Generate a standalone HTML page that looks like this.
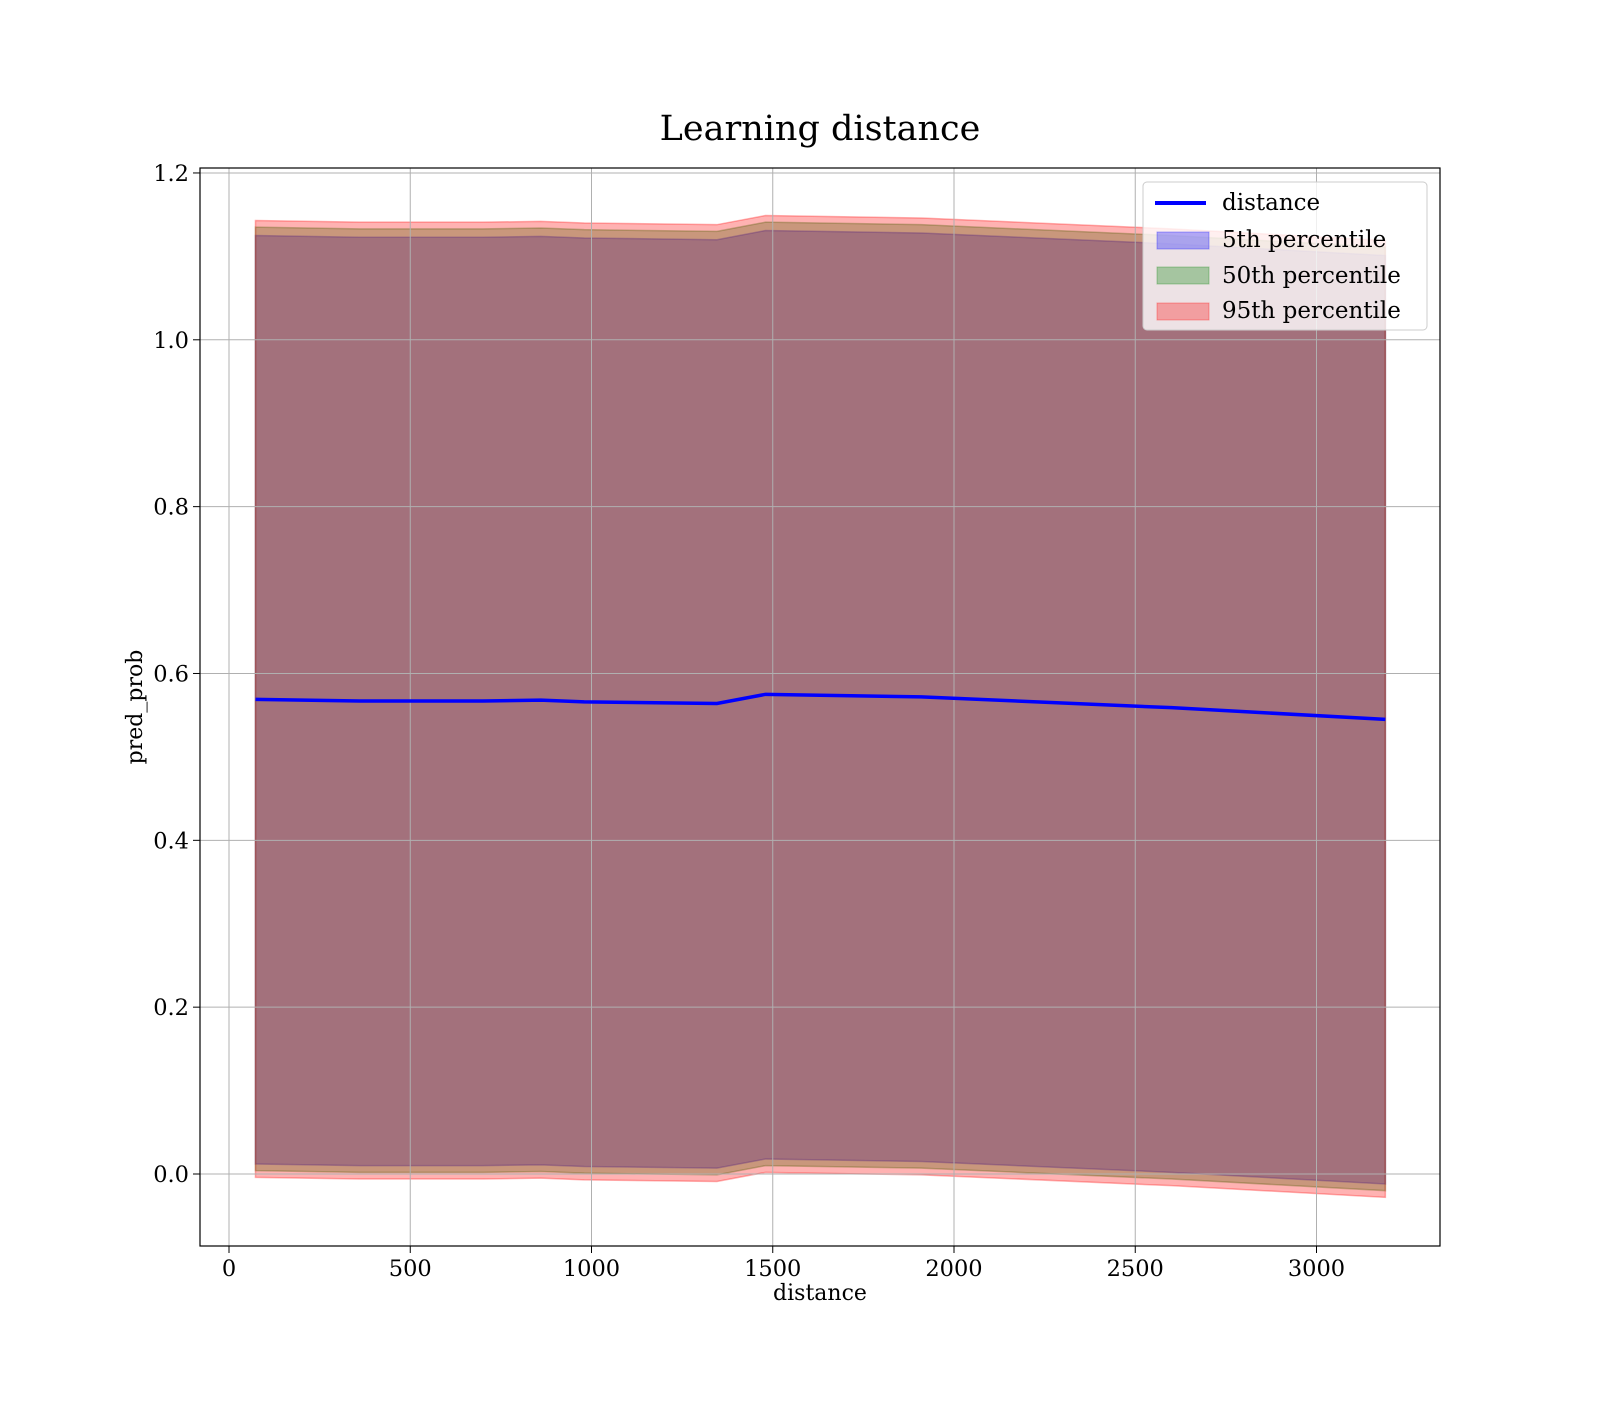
<!DOCTYPE html>
<html><head><meta charset="utf-8"><style>body{margin:0;background:#fff}svg text{font-family:"DejaVu Serif","Liberation Serif",serif;fill:#000}</style></head>
<body>
<svg id="chart" width="1600" height="1400" xmlns="http://www.w3.org/2000/svg">
<rect width="1600" height="1400" fill="#fff"/>
<text x="820" y="140" font-size="35" text-anchor="middle">Learning distance</text>
<g id="fills"></g><g id="grid"></g><g id="lines"></g><g id="ticks"></g>
<rect x="200" y="168" width="1240" height="1078" fill="none" stroke="#000" stroke-width="1.2"/>
<text x="820" y="1300" font-size="22" text-anchor="middle">distance</text>
<text transform="translate(142 707) rotate(-90)" font-size="22" text-anchor="middle">pred_prob</text>
<g>
<rect x="1143" y="182" width="284" height="148" rx="4" fill="rgba(255,255,255,0.8)" stroke="#ccc"/>
<line x1="1155" y1="203" x2="1206" y2="203" stroke="#00f" stroke-width="4"/>
<text x="1222" y="210" font-size="23">distance</text>
<rect x="1157" y="232" width="52" height="17" fill="rgba(0,0,255,0.3)" stroke="rgba(0,0,255,0.3)"/>
<text x="1222" y="247" font-size="23">5th percentile</text>
<rect x="1157" y="267" width="52" height="17" fill="rgba(0,128,0,0.3)" stroke="rgba(0,128,0,0.3)"/>
<text x="1222" y="283" font-size="23">50th percentile</text>
<rect x="1157" y="303" width="52" height="17" fill="rgba(255,0,0,0.3)" stroke="rgba(255,0,0,0.3)"/>
<text x="1222" y="318" font-size="23">95th percentile</text>
</g>
</svg>
<script>
const xs=[73,360,700,860,980,1346,1480,1910,2600,3190];
const line=[0.569,0.567,0.567,0.568,0.566,0.564,0.575,0.572,0.559,0.545];
const p5Hi=[1.125,1.123,1.123,1.124,1.122,1.120,1.131,1.128,1.115,1.101];
const p5Lo=[0.012,0.010,0.010,0.011,0.009,0.007,0.018,0.015,0.002,-0.012];
const p50Hi=[1.135,1.133,1.133,1.134,1.132,1.130,1.141,1.138,1.125,1.111];
const p50Lo=[0.004,0.002,0.002,0.003,0.001,-0.001,0.010,0.007,-0.006,-0.020];
const p95Hi=[1.143,1.141,1.141,1.142,1.140,1.138,1.149,1.146,1.133,1.119];
const p95Lo=[-0.004,-0.006,-0.006,-0.005,-0.007,-0.009,0.002,-0.001,-0.014,-0.028];
const xTicks=[0,500,1000,1500,2000,2500,3000];
const yTicks=[0.0,0.2,0.4,0.6,0.8,1.0,1.2];
const X=v=>229+v*0.3625, Y=v=>1174-v*834.2;
const NS='http://www.w3.org/2000/svg';
function mk(tag,attrs,parent){const e=document.createElementNS(NS,tag);for(const k in attrs)e.setAttribute(k,attrs[k]);document.getElementById(parent).appendChild(e);return e;}
function band(hi,lo,col,name){
 let d='M'+xs.map((x,i)=>X(x)+','+Y(hi[i])).join('L')+'L'+xs.slice().reverse().map((x,j)=>X(x)+','+Y(lo[xs.length-1-j])).join('L')+'Z';
 const p=mk('path',{d:d,fill:col,stroke:col,'stroke-width':1.5},'fills');
 
 
}
band(p5Hi,p5Lo,'rgba(0,0,255,0.3)','band-5th-percentile');
band(p50Hi,p50Lo,'rgba(0,128,0,0.3)','band-50th-percentile');
band(p95Hi,p95Lo,'rgba(255,0,0,0.3)','band-95th-percentile');
xTicks.forEach(t=>{
 const g=mk('line',{x1:X(t),x2:X(t),y1:168,y2:1246,stroke:'#b0b0b0','stroke-width':1},'grid');
 
 
 mk('line',{x1:X(t),x2:X(t),y1:1246,y2:1253,stroke:'#000'},'ticks');
 const tx=mk('text',{x:X(t),y:1276,'font-size':22.5,'text-anchor':'middle'},'ticks');
 tx.textContent=t;
 
 
});
yTicks.forEach(t=>{
 const g=mk('line',{x1:200,x2:1440,y1:Y(t),y2:Y(t),stroke:'#b0b0b0','stroke-width':1},'grid');
 
 
 mk('line',{x1:193,x2:200,y1:Y(t),y2:Y(t),stroke:'#000'},'ticks');
 const tx=mk('text',{x:189,y:Y(t)+8,'font-size':22.5,'text-anchor':'end'},'ticks');
 tx.textContent=t.toFixed(1);
 
 
});
const l=mk('polyline',{points:xs.map((x,i)=>X(x)+','+Y(line[i])).join(' '),fill:'none',stroke:'#00f','stroke-width':3.5},'lines');


</script>
</body></html>
